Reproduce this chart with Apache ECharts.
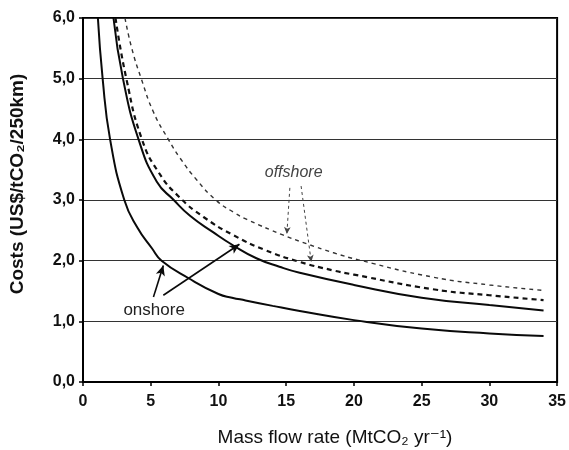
<!DOCTYPE html>
<html>
<head>
<meta charset="utf-8">
<script src="https://cdn.jsdelivr.net/npm/echarts@6/dist/echarts.min.js"></script>
<style>html,body{margin:0;padding:0;background:#fff;}#c{width:569px;height:450px;}</style>
</head>
<body>
<div id="c"></div>
<script>
// Onshore (solid) curves
const xOnLow  = [1.1, 1.45, 2.0, 3.05, 4.0, 5.1, 5.8, 7.8, 10, 11, 12, 14, 16, 20, 25, 30, 34];
const yOnLow  = [6.0, 5.0, 4.0, 3.0, 2.55, 2.2, 2.0, 1.71, 1.45, 1.39, 1.345, 1.255, 1.17, 1.02, 0.88, 0.80, 0.76];
const xOnHigh = [2.25, 2.95, 4.1, 5.45, 6.7, 7.9, 9.6, 11.1, 12.8, 14.5, 16, 20, 25, 30, 34];
const yOnHigh = [6.0, 5.0, 4.0, 3.3, 3.0, 2.74, 2.47, 2.25, 2.04, 1.9, 1.8, 1.6, 1.39, 1.27, 1.18];
// Offshore (dashed) curves
const xOffLow  = [2.4, 3.2, 4.35, 5.6, 7.1, 8.9, 11.1, 13.5, 16, 18.45, 20, 25.8, 30, 34];
const yOffLow  = [6.0, 5.0, 4.0, 3.45, 3.05, 2.72, 2.42, 2.17, 1.98, 1.84, 1.77, 1.53, 1.43, 1.35];
const xOffHigh = [3.1, 3.6, 4.3, 5.2, 6.3, 7.2, 8.4, 9.8, 11.1, 12.1, 14.8, 16.5, 18.5, 20.4, 25.8, 30, 34];
const yOffHigh = [6.0, 5.5, 5.0, 4.45, 4.0, 3.68, 3.33, 3.0, 2.8, 2.68, 2.42, 2.28, 2.13, 2.01, 1.73, 1.6, 1.51];
// Axis ticks
const xTicks = [0, 5, 10, 15, 20, 25, 30, 35];
const yTicks = [0, 1, 2, 3, 4, 5, 6];
// Annotations (data coordinates)
const onshoreLabel = [5.25, 1.18];
const offshoreLabel = [15.55, 3.46];
const onshoreArrows = [[[5.2, 1.40], [5.93, 1.92]], [[5.93, 1.43], [11.55, 2.27]]];
const offshoreArrows = [[[15.27, 3.20], [15.05, 2.44]], [[16.1, 3.23], [16.85, 1.98]]];

const pairs = (xs, ys) => xs.map((x, i) => [x, ys[i]]);
const FONT = '"Liberation Sans", Arial, "DejaVu Sans", sans-serif';

const chart = echarts.init(document.getElementById('c'), null, {renderer: 'canvas'});
chart.setOption({
  animation: false,
  backgroundColor: '#fff',
  grid: {left: 83, right: 11, top: 18, bottom: 68, show: true, borderColor: '#000', borderWidth: 2, backgroundColor: 'transparent'},
  xAxis: {
    type: 'value', min: xTicks[0], max: xTicks[xTicks.length - 1], interval: 5,
    axisLine: {lineStyle: {color: '#000', width: 2}},
    axisTick: {show: true, length: 4, lineStyle: {color: '#000', width: 1.5}},
    axisLabel: {margin: 12, color: '#111', fontSize: 16, fontWeight: 'bold', fontFamily: FONT},
    splitLine: {show: false}
  },
  yAxis: {
    type: 'value', min: yTicks[0], max: yTicks[yTicks.length - 1], interval: 1,
    axisLine: {show: true, lineStyle: {color: '#000', width: 2}},
    axisTick: {show: true, length: 4, lineStyle: {color: '#000', width: 1.5}},
    axisLabel: {margin: 8, color: '#111', fontSize: 16, fontWeight: 'bold', fontFamily: FONT,
      formatter: v => v.toFixed(1).replace('.', ',')},
    splitLine: {show: true, lineStyle: {color: '#333', width: 1}}
  },
  graphic: [
    {type: 'text', x: 335, y: 438, style: {text: 'Mass flow rate (MtCO\u2082 yr\u207B\u00B9)', font: '19px ' + FONT, fill: '#111', align: 'center', verticalAlign: 'middle'}},
    {type: 'text', x: 18, y: 184, rotation: Math.PI / 2, style: {text: 'Costs (US$/tCO\u2082/250km)', font: 'bold 19px ' + FONT, fill: '#111', align: 'center', verticalAlign: 'middle'}}
  ],
  series: [
    {type: 'line', name: 'onshore low', data: pairs(xOnLow, yOnLow), showSymbol: false, smooth: 0.5,
      lineStyle: {color: '#0a0a0a', width: 2}, z: 3,
      markLine: {silent: true, symbol: ['none', 'arrow'], symbolSize: [7, 10],
        label: {show: false},
        lineStyle: {color: '#0a0a0a', width: 1.6, type: 'solid'},
        data: onshoreArrows.map(a => [{coord: a[0]}, {coord: a[1]}])},
      markPoint: {silent: true, symbol: 'circle', symbolSize: 0,
        label: {show: true, position: 'inside', formatter: 'onshore', color: '#222', fontSize: 17, fontFamily: FONT},
        data: [{coord: onshoreLabel}]}
    },
    {type: 'line', name: 'onshore high', data: pairs(xOnHigh, yOnHigh), showSymbol: false, smooth: 0.5,
      lineStyle: {color: '#0a0a0a', width: 2}, z: 3},
    {type: 'line', name: 'offshore low', data: pairs(xOffLow, yOffLow), showSymbol: false, smooth: 0.5,
      lineStyle: {color: '#111', width: 2.2, type: [5, 4]}, z: 3},
    {type: 'line', name: 'offshore high', data: pairs(xOffHigh, yOffHigh), showSymbol: false, smooth: 0.5,
      lineStyle: {color: '#333', width: 1.4, type: [4, 4]}, z: 3,
      markLine: {silent: true, symbol: ['none', 'arrow'], symbolSize: [5, 7],
        label: {show: false},
        lineStyle: {color: '#444', width: 1, type: [3, 3]},
        data: offshoreArrows.map(a => [{coord: a[0]}, {coord: a[1]}])},
      markPoint: {silent: true, symbol: 'circle', symbolSize: 0,
        label: {show: true, position: 'inside', formatter: 'offshore', color: '#444', fontSize: 16, fontStyle: 'italic', fontFamily: FONT},
        data: [{coord: offshoreLabel}]}
    }
  ]
});
</script>
</body>
</html>
